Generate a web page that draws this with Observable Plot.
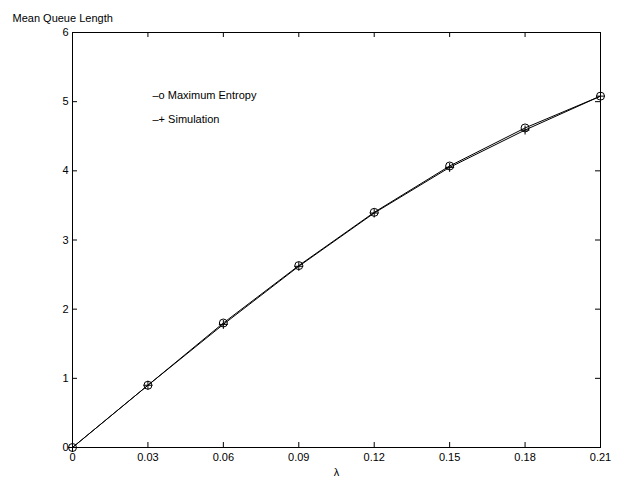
<!DOCTYPE html>
<html>
<head>
<meta charset="utf-8">
<script src="https://cdn.jsdelivr.net/npm/d3@7"></script>
<script src="https://cdn.jsdelivr.net/npm/@observablehq/plot@0.6"></script>
<style>
  body { margin: 0; background: #fff; }
  #chart svg { display: block; }
</style>
</head>
<body>
<div id="chart"></div>
<script>
const lambda = [0, 0.03, 0.06, 0.09, 0.12, 0.15, 0.18, 0.21];
const maxEntropy = [0, 0.90, 1.80, 2.63, 3.40, 4.07, 4.62, 5.08];
const simulation = [0, 0.90, 1.78, 2.62, 3.39, 4.05, 4.59, 5.08];
const xTicks = [0, 0.03, 0.06, 0.09, 0.12, 0.15, 0.18, 0.21];
const yTicks = [0, 1, 2, 3, 4, 5, 6];
const legendLabels = ["–o Maximum Entropy", "–+ Simulation"];
const yTitle = "Mean Queue Length";
const xTitle = "λ";

const me = lambda.map((x, i) => ({x, y: maxEntropy[i]}));
const sim = lambda.map((x, i) => ({x, y: simulation[i]}));

const W = 621, H = 486;
const mL = 72, mR = 21, mT = 32, mB = 39;
const innerW = W - mL - mR, innerH = H - mT - mB;
const tk = 5;
const font = "Liberation Sans, Arial, sans-serif";

const chart = Plot.plot({
  width: W,
  height: H,
  marginLeft: mL, marginRight: mR, marginTop: mT, marginBottom: mB,
  style: {fontFamily: font, fontSize: "11px", color: "#000", background: "#fff"},
  x: {domain: [0, 0.21]},
  y: {domain: [0, 6]},
  marks: [
    Plot.frame({stroke: "#000", strokeWidth: 1}),
    // inward ticks on all four sides
    Plot.tickX(xTicks, {x: d => d, stroke: "#000", insetTop: innerH - tk}),
    Plot.tickX(xTicks, {x: d => d, stroke: "#000", insetBottom: innerH - tk}),
    Plot.tickY(yTicks, {y: d => d, stroke: "#000", insetRight: innerW - tk}),
    Plot.tickY(yTicks, {y: d => d, stroke: "#000", insetLeft: innerW - tk}),
    Plot.axisX({ticks: xTicks, tickSize: 0, tickPadding: 6, tickFormat: d => d === 0 ? "0" : d3.format(".2f")(d), label: null, fontSize: 11}),
    Plot.axisY({ticks: yTicks, tickSize: 0, tickPadding: 4, tickFormat: d3.format("d"), label: null, fontSize: 11}),
    Plot.line(sim, {x: "x", y: "y", stroke: "#000", strokeWidth: 1}),
    Plot.line(me, {x: "x", y: "y", stroke: "#000", strokeWidth: 1}),
    Plot.dot(me, {x: "x", y: "y", r: 4, symbol: "circle", stroke: "#000", fill: "none", strokeWidth: 1}),
    Plot.dot(sim, {x: "x", y: "y", r: 3, symbol: "plus", stroke: "#000", strokeWidth: 1}),
    Plot.text([yTitle], {frameAnchor: "top-left", text: d => d, dx: -60, dy: -18, textAnchor: "start", fontSize: 11}),
    Plot.text([xTitle], {frameAnchor: "bottom", text: d => d, dy: 28, fontSize: 11}),
    Plot.text([legendLabels[0]], {frameAnchor: "top-left", text: d => d, dx: 80, dy: 59, textAnchor: "start", fontSize: 11}),
    Plot.text([legendLabels[1]], {frameAnchor: "top-left", text: d => d, dx: 80, dy: 83, textAnchor: "start", fontSize: 11})
  ]
});
document.getElementById("chart").appendChild(chart);
</script>
</body>
</html>
